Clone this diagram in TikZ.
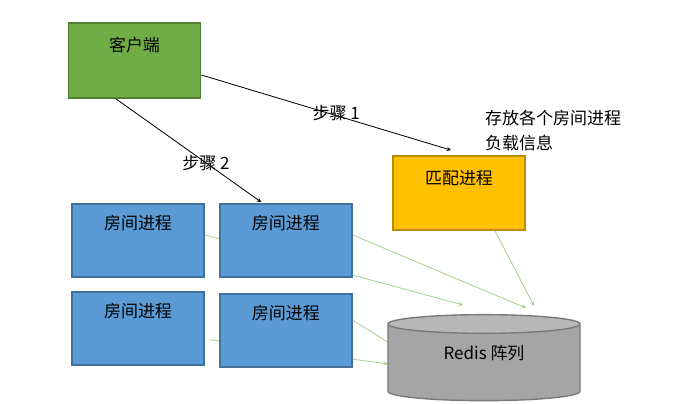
\documentclass[tikz,border=0pt]{standalone}
\usepackage{fontspec}
\setmainfont{Noto Sans CJK SC}
\usetikzlibrary{positioning,arrows,shapes.geometric,backgrounds}

\definecolor{clientfill}{HTML}{70AD47}
\definecolor{clientline}{HTML}{507E32}
\definecolor{matchfill}{HTML}{FFC000}
\definecolor{matchline}{HTML}{BC8C00}
\definecolor{roomfill}{HTML}{5B9BD5}
\definecolor{roomline}{HTML}{41719C}
\definecolor{redisbody}{HTML}{A5A5A5}
\definecolor{redistop}{HTML}{B7B7B7}
\definecolor{redisline}{HTML}{7A7A7A}
\definecolor{loadgreen}{HTML}{A9D18E}

\begin{document}
\begin{tikzpicture}[x=0.03cm, y=-0.03cm, >=stealth,
            procbox/.style={rectangle, line width=1.5pt, minimum width=3.96cm, inner sep=0pt, text height=0.78cm, text depth=1.41cm, font=\fontsize{14.5}{21}\selectfont},
            clientbox/.style={procbox, draw=clientline, fill=clientfill, text height=0.87cm, text depth=1.38cm},
            matchbox/.style={procbox, draw=matchline, fill=matchfill, text height=0.87cm, text depth=1.35cm},
            roombox/.style={procbox, draw=roomline, fill=roomfill},
            redisnode/.style={cylinder, shape border rotate=90, aspect=0.21, draw=redisline, line width=1.2pt, cylinder uses custom fill, cylinder body fill=redisbody, cylinder end fill=redistop, minimum height=2.58cm, minimum width=5.76cm, font=\fontsize{14.5}{21}\selectfont},
            steparrow/.style={->, line width=0.7pt, black},
            loadarrow/.style={->, line width=0.7pt, loadgreen},
            textnote/.style={inner sep=0pt, align=left, font=\fontsize{14.5}{21}\selectfont},
        ]
        \useasboundingbox (0,0) rectangle (693,404);
        \node[clientbox] (client)                      at (134.5,60.5) {客户端};
        \node[roombox]   (room1)                       at (138,240.5)  {房间进程};
        \node[roombox]   (room2) [right = 0.42cm of room1]             {房间进程};
        \node[roombox]   (room3) [below = 0.39cm of room1]             {房间进程};
        \node[roombox]   (room4) [below = 0.45cm of room2]             {房间进程};
        \node[matchbox]  (match)                       at (459,193)    {匹配进程};
        \node[redisnode] (redis)                       at (484,364)    {\raisebox{0.72cm}{Redis 阵列}};
        \node[textnote, anchor=north west] (note)      at (485,110)    {存放各个房间进程\\负载信息};
        \coordinate (load1) at (463,305);
        \coordinate (load2) at (526,308);
        \coordinate (load3) at (388,364);
        \coordinate (load4) at (394,346);
        \coordinate (load5) at (534,306);
        \draw[steparrow] ([yshift=-0.435cm]client.east) -- node[pos=0.54, yshift=0.08cm, font=\fontsize{14.5}{21}\selectfont] (step1) {步骤 1} ([xshift=-0.24cm, yshift=0.15cm]match.north);
        \draw[steparrow] ([xshift=-0.555cm]client.south) -- node[pos=0.62, font=\fontsize{14.5}{21}\selectfont] (step2) {步骤 2} ([xshift=-0.735cm, yshift=0.03cm]room2.north);
        \begin{pgfonlayer}{background}
            \draw[loadarrow] ([yshift=0.165cm]room1.east) -- (load1);
            \draw[loadarrow] ([yshift=0.165cm]room2.east) -- (load2);
            \draw[loadarrow] ([xshift=0.15cm, yshift=-0.345cm]room3.east) -- (load3);
            \draw[loadarrow] ([yshift=0.3cm]room4.east) -- (load4);
            \draw[loadarrow] ([xshift=1.08cm]match.south) -- (load5);
        \end{pgfonlayer}
    \end{tikzpicture}
\end{document}
